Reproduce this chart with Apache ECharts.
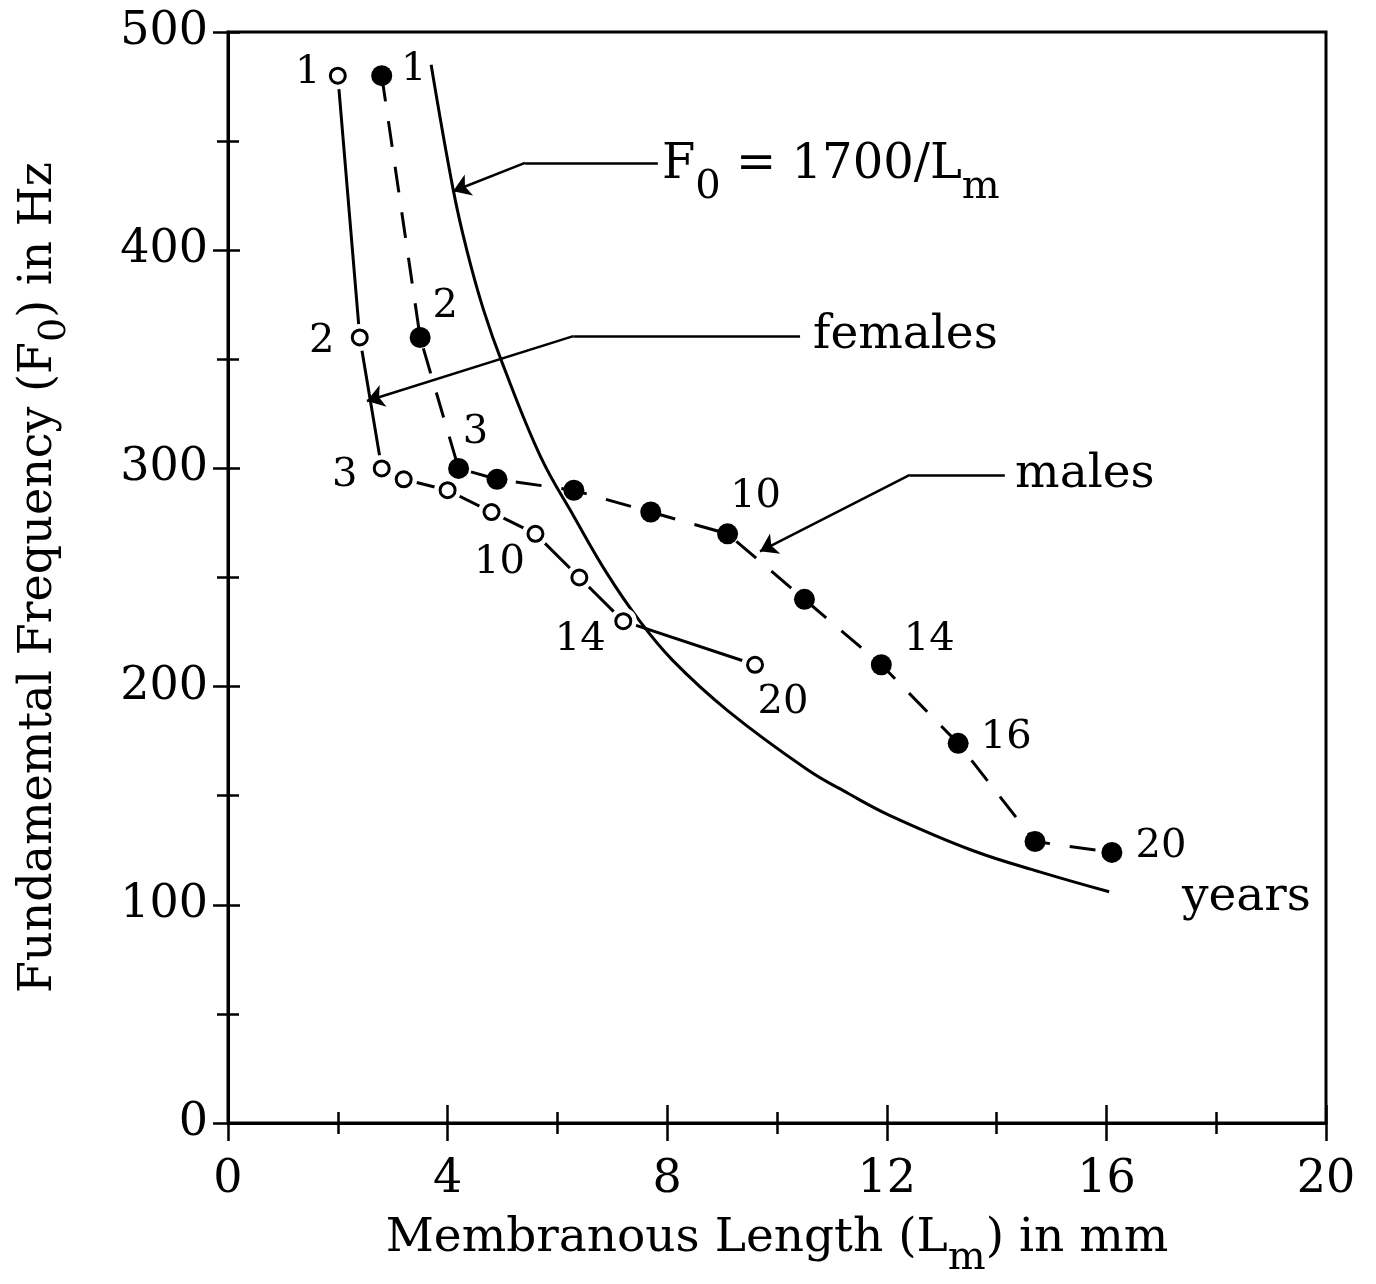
<!DOCTYPE html>
<html>
<head>
<meta charset="utf-8">
<script src="https://cdn.jsdelivr.net/npm/echarts@6/dist/echarts.min.js"></script>
<style>
  html, body { margin: 0; padding: 0; background: #fff; }
  #main { width: 1376px; height: 1284px; }
</style>
</head>
<body>
<div id="main"></div>
<script>
// values
var femaleLength = [2.0, 2.4, 2.8, 3.2, 4.0, 4.8, 5.6, 6.4, 7.2, 9.6];
var femaleF0 = [480, 360, 300, 295, 290, 280, 270, 250, 230, 210];
var femaleAge = [1, 2, 3, 4, 6, 8, 10, 12, 14, 20];
var femaleLabelled = [1, 2, 3, 10, 14, 20];

var maleLength = [2.8, 3.5, 4.2, 4.9, 6.3, 7.7, 9.1, 10.5, 11.9, 13.3, 14.7, 16.1];
var maleF0 = [480, 360, 300, 295, 290, 280, 270, 240, 210, 174, 129, 124];
var maleAge = [1, 2, 3, 4, 6, 8, 10, 12, 14, 16, 18, 20];
var maleLabelled = [1, 2, 3, 10, 14, 16, 20];

// F0 = 1700/Lm curve
var curveLength = [3.7, 4.1, 4.35, 4.65, 5.0, 5.7, 6.3, 6.9, 7.5, 8.1, 9.1, 10.55, 11.3, 12.05, 13.55, 14.8, 16.05];
var curveF0 = [485, 428, 400, 373, 348, 305, 278, 252, 230, 212, 189, 162, 151, 141, 125, 115, 106];

var xTickStep = 4;
var yTickStep = 100;

var FONT = 'DejaVu Serif';

// label offsets (px) for the age numbers
var femaleOffset = {1: [-30, -3], 2: [-38, 4], 3: [-37, 7], 10: [-36, 29], 14: [-43, 18], 20: [28, 38]};
var maleOffset = {1: [32, -6], 2: [25, -31], 3: [17, -36], 10: [28, -37], 14: [48, -25], 16: [48, -6], 20: [49, -6]};

function zip(a, b) {
  return a.map(function (v, i) { return [v, b[i]]; });
}

function markerData(xs, ys, ages, shown, offsets) {
  return xs.map(function (x, i) {
    var age = ages[i];
    var on = shown.indexOf(age) >= 0;
    return {
      value: [x, ys[i]],
      label: {
        show: on,
        formatter: String(age),
        offset: on ? offsets[age] : [0, 0]
      }
    };
  });
}

function subRich(size, subSize, drop) {
  return {
    n: { fontFamily: FONT, fontSize: size, verticalAlign: 'top', color: '#000' },
    s: { fontFamily: FONT, fontSize: subSize, verticalAlign: 'top', padding: [drop, 0, 0, 0], color: '#000' }
  };
}

function baseX(inner) {
  return {
    type: 'value', min: 0, max: 20, interval: xTickStep,
    position: 'bottom',
    axisLine: { show: !inner, lineStyle: { color: '#000', width: 3 } },
    axisTick: { show: true, inside: inner, length: 18, lineStyle: { color: '#000', width: 2.5 } },
    minorTick: { show: true, splitNumber: 2, length: 11, lineStyle: { color: '#000', width: 2.5 } },
    axisLabel: { show: !inner, margin: 34, color: '#000', fontFamily: FONT, fontSize: 46 },
    splitLine: { show: false }
  };
}

function baseY(inner) {
  return {
    type: 'value', min: 0, max: 500, interval: yTickStep,
    position: 'left',
    axisLine: { show: !inner, lineStyle: { color: '#000', width: 3 } },
    axisTick: { show: true, inside: inner, length: inner ? 12 : 15, lineStyle: { color: '#000', width: 2.5 } },
    minorTick: { show: true, splitNumber: 2, length: 11, lineStyle: { color: '#000', width: 2.5 } },
    axisLabel: { show: !inner, margin: 20, color: '#000', fontFamily: FONT, fontSize: 46 },
    splitLine: { show: false }
  };
}

var xMain = baseX(false);
xMain.name = '{n|Membranous Length (L}{s|m}{n|) in mm}';
xMain.nameLocation = 'middle';
xMain.nameGap = 92;
xMain.nameTextStyle = { rich: subRich(47, 40, 24) };

var yMain = baseY(false);
yMain.name = '{n|Fundamemtal Frequency (F}{s|0}{n|) in Hz}';
yMain.nameLocation = 'middle';
yMain.nameRotate = 90;
yMain.nameGap = 154;
yMain.nameTextStyle = { rich: subRich(46, 38, 20) };

// annotation arrows: leader polyline and the arrow-tipped last segment
var leaders = [
  [[7.83, 440], [5.41, 440]],
  [[10.42, 360.6], [6.29, 360.6]],
  [[14.15, 297], [12.42, 297]]
];
var arrowTips = [
  [[5.41, 440], [4.10, 427]],
  [[6.29, 360.6], [2.53, 330.9]],
  [[12.42, 297], [9.69, 262]]
];

var chart = echarts.init(document.getElementById('main'));
chart.setOption({
  animation: false,
  backgroundColor: '#fff',
  grid: { left: 228, right: 50, top: 32, bottom: 158, show: true, borderColor: '#000', borderWidth: 3 },
  xAxis: [xMain, baseX(true)],
  yAxis: [yMain, baseY(true)],
  series: [
    {
      name: 'F0 = 1700/Lm', type: 'line', smooth: 0.4, showSymbol: false, silent: true,
      data: zip(curveLength, curveF0),
      lineStyle: { color: '#000', width: 3 }
    },
    {
      name: 'females line', type: 'line', showSymbol: false, silent: true,
      data: zip(femaleLength, femaleF0),
      lineStyle: { color: '#000', width: 3 }
    },
    {
      name: 'males line', type: 'line', showSymbol: false, silent: true,
      data: zip(maleLength, maleF0),
      lineStyle: { color: '#000', width: 3, type: [26, 20] }
    },
    {
      name: 'halo', type: 'scatter', z: 3, silent: true,
      symbolSize: 27,
      data: zip(femaleLength, femaleF0),
      itemStyle: { color: '#fff', opacity: 1 }
    },
    {
      name: 'females', type: 'scatter', z: 4,
      symbol: 'circle', symbolSize: 15,
      data: markerData(femaleLength, femaleF0, femaleAge, femaleLabelled, femaleOffset),
      itemStyle: { color: '#fff', borderColor: '#000', borderWidth: 3, opacity: 1 },
      label: { position: 'inside', color: '#000', fontFamily: FONT, fontSize: 40 }
    },
    {
      name: 'males', type: 'scatter', z: 4,
      symbol: 'circle', symbolSize: 21,
      data: markerData(maleLength, maleF0, maleAge, maleLabelled, maleOffset),
      itemStyle: { color: '#000', opacity: 1 },
      label: { position: 'inside', color: '#000', fontFamily: FONT, fontSize: 40 }
    },
    {
      name: 'leaders', type: 'lines', coordinateSystem: 'cartesian2d', silent: true, z: 5,
      symbol: 'none',
      lineStyle: { color: '#000', width: 2.5, opacity: 1 },
      data: leaders.map(function (c) { return { coords: c }; })
    },
    {
      name: 'arrows', type: 'lines', coordinateSystem: 'cartesian2d', silent: true, z: 5,
      symbol: ['none', 'arrow'], symbolSize: 17,
      lineStyle: { color: '#000', width: 2.5, opacity: 1 },
      data: arrowTips.map(function (c) { return { coords: c }; })
    },
    {
      name: 'notes', type: 'scatter', symbolSize: 0, silent: true, z: 5,
      itemStyle: { opacity: 1 },
      label: { show: true, position: 'right', distance: 2, color: '#000', fontFamily: FONT, fontSize: 47 },
      data: [
        { value: [7.87, 440], label: { formatter: '{n|F}{s|0}{n| = 1700/L}{s|m}', rich: subRich(48, 40, 26), offset: [0, 12] } },
        { value: [10.62, 360.6], label: { formatter: 'females' } },
        { value: [14.3, 297], label: { formatter: 'males' } },
        { value: [17.34, 103], label: { formatter: 'years' } }
      ]
    }
  ]
});
</script>
</body>
</html>
